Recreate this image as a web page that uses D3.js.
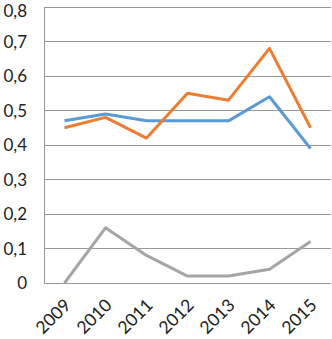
<!DOCTYPE html>
<html><head><meta charset="utf-8">
<script src="https://cdn.jsdelivr.net/npm/d3@7"></script>
<style>body{margin:0;background:#fff}svg{display:block}</style>
</head><body>
<svg id="c" width="332" height="339"></svg>
<script>
const years = ["2009","2010","2011","2012","2013","2014","2015"];
const seriesBlue = [0.47,0.49,0.47,0.47,0.47,0.54,0.39];
const seriesOrange = [0.45,0.48,0.42,0.55,0.53,0.68,0.45];
const seriesGray = [0,0.16,0.08,0.02,0.02,0.04,0.12];
const yTicks = [0,0.1,0.2,0.3,0.4,0.5,0.6,0.7,0.8];
const colors = ["#5b9bd5","#ed7d31","#a5a5a5"];

const svg = d3.select("#c");
const m = {l:44, r:1, t:7, b:56};
const W = 332, H = 339;
const x = d3.scalePoint().domain(years).range([m.l, W-m.r]).padding(0.5);
const y = d3.scaleLinear().domain([0,0.8]).range([H-m.b, m.t]);
const font = "Lato, 'Open Sans', sans-serif";

svg.append("g").selectAll("line").data(yTicks).join("line")
  .attr("x1", m.l).attr("x2", W-m.r)
  .attr("y1", d=>y(d)).attr("y2", d=>y(d))
  .attr("stroke", "#999").attr("stroke-width", 1).attr("shape-rendering","crispEdges");
svg.append("line").attr("x1", m.l).attr("x2", m.l).attr("y1", y(0.8)).attr("y2", y(0))
  .attr("stroke", "#999").attr("shape-rendering","crispEdges");

svg.append("g").selectAll("text").data(yTicks).join("text")
  .attr("x", 27).attr("y", d=>Math.max(y(d)+6, 17))
  .attr("text-anchor","end").attr("font-family", font).attr("font-size", 17).attr("fill","#222")
  .text(d => d===0 ? "0" : d3.format(".1f")(d).replace(".", ","));

svg.append("g").selectAll("text").data(years).join("text")
  .attr("transform", d => `translate(${x(d)+3},${y(0)+19}) rotate(-45)`)
  .attr("text-anchor","end").attr("dy","0.35em")
  .attr("font-family", font).attr("font-size", 17.5).attr("fill","#222")
  .text(d=>d);

const line = d3.line().x((d,i)=>x(years[i])).y(d=>y(d));
[seriesBlue, seriesOrange, seriesGray].forEach((s,i)=>{
  svg.append("path").datum(s).attr("d", line).attr("fill","none")
    .attr("stroke", colors[i]).attr("stroke-width", 3).attr("stroke-linejoin","round");
});
</script>
</body></html>
